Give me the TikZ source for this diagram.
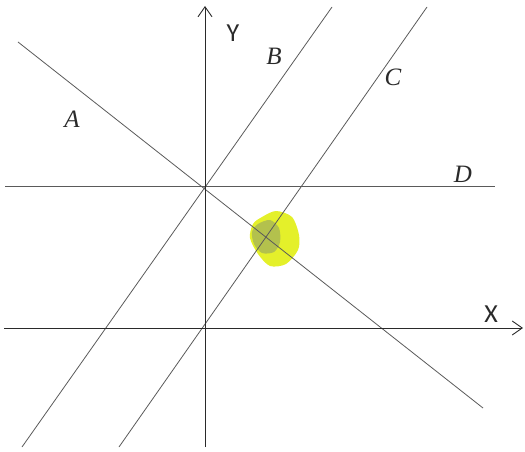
\documentclass[tikz,border=0pt]{standalone}
\usepackage{fontspec}
\setmainfont{Carlito}
\newfontfamily\linefont{Liberation Serif}
\usetikzlibrary{arrows.meta, positioning}
\definecolor{graphline}{HTML}{5A5A5A}
\definecolor{graphaxis}{HTML}{2A2A2A}
\definecolor{markyellow}{HTML}{E4F02A}
\definecolor{markgreen}{HTML}{A3B25A}
\tikzset{
  graphaxis/.style={draw=graphaxis, line width=0.9pt, -{Straight Barb[length=10pt, width=14pt, line width=0.9pt]}},
  graphline/.style={draw=graphline, line width=0.8pt},
  linelabel/.style={font=\fontsize{25}{30}\linefont\itshape, text=graphaxis, inner sep=0pt},
  axislabel/.style={font=\fontsize{26}{30}\selectfont, text=graphaxis, inner sep=0pt}
}

\begin{document}
\begin{tikzpicture}[x=1pt, y=-1pt]
\useasboundingbox (0,0) rectangle (525,452);

% end points
\coordinate (xstart) at (4,328);
\coordinate (xend) at (523,328);
\coordinate (ystart) at (205,447);
\coordinate (yend) at (205,6);
\coordinate (astart) at (18,42);
\coordinate (aend) at (483,408);
\coordinate (bstart) at (332,7);
\coordinate (bend) at (22,447);
\coordinate (cstart) at (427,7);
\coordinate (cend) at (119,447);
\coordinate (dstart) at (5,186);
\coordinate (dend) at (495,186);

% highlight
\fill[markyellow] plot[smooth cycle] coordinates {(262,217) (276,211) (292,217) (299,235) (298,250) (286,264) (270,266) (258,254) (250,238) (253,224)};
\fill[markgreen, opacity=0.75] plot[smooth cycle] coordinates {(258,224) (270,220) (279,228) (280,242) (274,252) (262,253) (254,244) (252,232)};

% lines
\draw[graphline] (astart) -- (aend);
\draw[graphline] (bstart) -- (bend);
\draw[graphline] (cstart) -- (cend);
\draw[graphline] (dstart) -- (dend);

% axes
\draw[graphaxis] (xstart) -- (xend);
\draw[graphaxis] (ystart) -- (yend);

% labels
\node[axislabel] (ylabel) at (233,33) {Y};
\node[axislabel] (xlabel) at (491,314) {X};
\node[linelabel] (alabel) at (72,119) {A};
\node[linelabel] (blabel) at (274,56) {B};
\node[linelabel] (clabel) at (393,77) {C};
\node[linelabel] (dlabel) at (463,174) {D};
\end{tikzpicture}
\end{document}
